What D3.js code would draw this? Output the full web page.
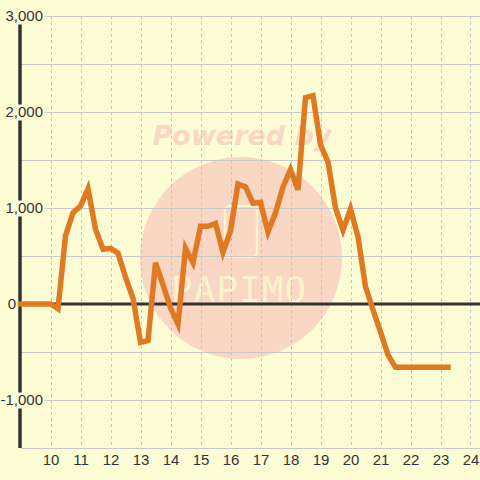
<!DOCTYPE html>
<html>
<head>
<meta charset="utf-8">
<script src="https://cdn.jsdelivr.net/npm/d3@7"></script>
<style>
  html, body { margin: 0; padding: 0; background: #fcfdd4; }
  svg { display: block; font-family: "Liberation Sans", Arial, sans-serif; }
</style>
</head>
<body>
<div id="canvas"></div>
<script>
const canvas = d3.select("#canvas");

// data: one point every 15 minutes
const times = [
  9.0, 9.25, 9.5, 9.75, 10.0, 10.25, 10.5, 10.75, 11.0, 11.25, 11.5, 11.75,
  12.0, 12.25, 12.5, 12.75, 13.0, 13.25, 13.5, 13.75, 14.0, 14.25, 14.5, 14.75,
  15.0, 15.25, 15.5, 15.75, 16.0, 16.25, 16.5, 16.75, 17.0, 17.25, 17.5, 17.75,
  18.0, 18.25, 18.5, 18.75, 19.0, 19.25, 19.5, 19.75, 20.0, 20.25, 20.5, 20.75,
  21.0, 21.25, 21.5, 21.75, 22.0, 22.25, 22.5, 22.75, 23.0, 23.25
];
const values = [
  0, 0, 0, 0, 0, -50, 710, 950, 1020, 1200, 780, 570,
  580, 530, 280, 60, -400, -380, 430, 200, -40, -210, 580, 430,
  810, 810, 840, 540, 760, 1250, 1220, 1050, 1060, 750, 950, 1220,
  1400, 1190, 2150, 2170, 1660, 1480, 1000, 770, 990, 700, 180, -60,
  -290, -530, -660, -660, -660, -660, -660, -660, -660, -660
];
const xTicks = [10, 11, 12, 13, 14, 15, 16, 17, 18, 19, 20, 21, 22, 23, 24];
const yTicks = [-1000, 0, 1000, 2000, 3000];
const yGrid = [-1500, -1000, -500, 0, 500, 1000, 1500, 2000, 2500, 3000];

const width = 480;
const height = 480;
const bg = "#fcfdd4";

const svg = canvas.append("svg").attr("width", width).attr("height", height);
svg.append("rect").attr("width", width).attr("height", height).attr("fill", bg);

const x = d3.scaleLinear().domain([9, 24.3]).range([20.5, 479.5]);
const y = d3.scaleLinear().domain([-1500, 3000]).range([448, 16]);

// watermark
const wm = svg.append("g");
wm.append("circle")
  .attr("cx", 241).attr("cy", 258).attr("r", 101)
  .attr("fill", "#fad6c4");
wm.append("text")
  .attr("x", 242).attr("y", 145)
  .attr("text-anchor", "middle")
  .attr("font-family", "DejaVu Sans")
  .attr("font-size", 27).attr("font-weight", "bold").attr("font-style", "italic")
  .attr("fill", "#fad6c4")
  .text("Powered by");
wm.append("rect")
  .attr("x", 225).attr("y", 206).attr("width", 32).attr("height", 51).attr("rx", 5)
  .attr("fill", "none").attr("stroke", "#fcf3cf").attr("stroke-width", 2.5);
wm.append("text")
  .attr("x", 239).attr("y", 302)
  .attr("text-anchor", "middle")
  .attr("font-family", "DejaVu Sans Mono")
  .attr("font-size", 36)
  .attr("letter-spacing", 1)
  .attr("fill", "#fcf2cc")
  .text("PAPIMO");

// grid
svg.append("g").selectAll("line").data(yGrid).join("line")
  .attr("x1", 21).attr("x2", width)
  .attr("y1", (d) => y(d) + 0.5).attr("y2", (d) => y(d) + 0.5)
  .attr("stroke", "#c8c8c8").attr("stroke-width", 1);

svg.append("g").selectAll("line").data(xTicks).join("line")
  .attr("x1", (d) => Math.round(x(d)) + 0.5).attr("x2", (d) => Math.round(x(d)) + 0.5)
  .attr("y1", 16).attr("y2", 448)
  .attr("stroke", "#c4c4c4").attr("stroke-width", 1)
  .attr("stroke-dasharray", "3,3");

// zero line
svg.append("line")
  .attr("x1", 20).attr("x2", width)
  .attr("y1", y(0)).attr("y2", y(0))
  .attr("stroke", "#333").attr("stroke-width", 3);

// y axis line
svg.append("line")
  .attr("x1", 20).attr("x2", 20)
  .attr("y1", 16).attr("y2", 448)
  .attr("stroke", "#333").attr("stroke-width", 3.5);

// y labels with background boxes
const fmt = (d) => d3.format(",")(d).replace("\u2212", "-");
const yAxis = svg.append("g")
  .attr("transform", "translate(45,0)")
  .call(d3.axisLeft(y).tickValues(yTicks).tickFormat(fmt).tickSize(0).tickPadding(2));
yAxis.select(".domain").remove();
yAxis.selectAll("text")
  .attr("font-size", 15)
  .attr("font-family", "Liberation Sans, Arial, sans-serif")
  .attr("fill", "#333");
// the zero label sits left of the axis
yAxis.selectAll(".tick").filter((d) => d === 0).select("text").attr("x", -29);
yAxis.selectAll(".tick").filter((d) => d !== 0).each(function () {
  const t = d3.select(this).select("text");
  const b = t.node().getBBox();
  d3.select(this).insert("rect", "text")
    .attr("x", b.x - 2).attr("y", -8)
    .attr("width", b.width + 4).attr("height", 16)
    .attr("fill", bg);
});

// x labels
const xAxis = svg.append("g")
  .attr("transform", "translate(0,452)")
  .call(d3.axisBottom(x).tickValues(xTicks).tickFormat(d3.format("d")).tickSize(0).tickPadding(2));
xAxis.select(".domain").remove();
xAxis.selectAll("text")
  .attr("font-size", 15)
  .attr("font-family", "Liberation Sans, Arial, sans-serif")
  .attr("fill", "#333");

// series
const line = d3.line()
  .x((d, i) => x(times[i]))
  .y((d) => y(d));

svg.append("path")
  .datum(values)
  .attr("d", line)
  .attr("fill", "none")
  .attr("stroke", "#df7a22")
  .attr("stroke-width", 5.5)
  .attr("stroke-linejoin", "miter")
  .attr("stroke-linecap", "square");
</script>
</body>
</html>
